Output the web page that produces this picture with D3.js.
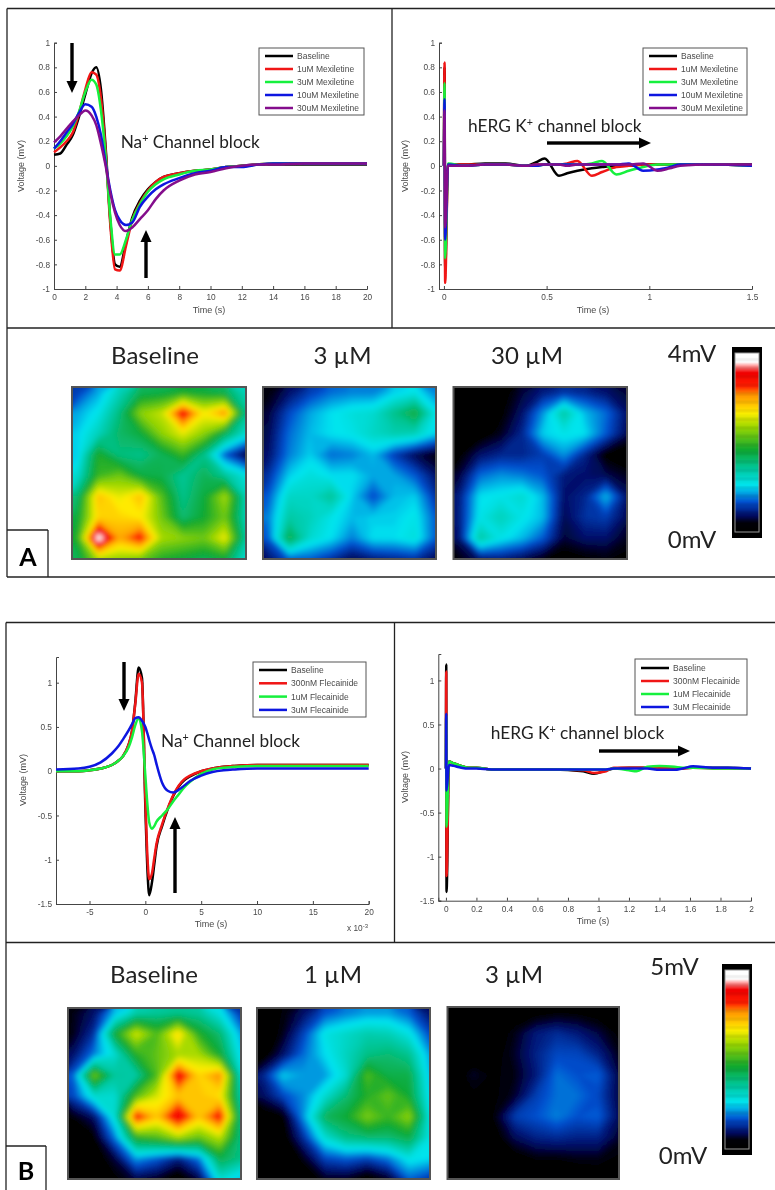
<!DOCTYPE html>
<html>
<head>
<meta charset="utf-8">
<script src="https://cdn.jsdelivr.net/npm/d3@7"></script>
<style>
  body { margin: 0; background: #fff; }
  svg { display: block; }
</style>
</head>
<body>
<svg id="plotSvg" width="775" height="1190"></svg>
<script>
// panel A, Mexiletine
var mexNames = ["Baseline", "1uM Mexiletine", "3uM Mexiletine", "10uM Mexiletine", "30uM Mexiletine"];
var mexColors = ["#000000", "#f01414", "#14f03c", "#0a14e0", "#84108c"];

var naTimeA = [0, 0.4, 0.8, 1.2, 1.6, 2, 2.4, 2.7, 3, 3.3, 3.6, 3.9, 4.2, 4.6, 5, 5.5, 6, 6.5, 7, 8, 9, 10, 11, 12, 13, 14, 16, 18, 20];
var naBaselineA = [0.09, 0.10, 0.17, 0.25, 0.40, 0.58, 0.75, 0.80, 0.62, 0.15, -0.45, -0.80, -0.82, -0.62, -0.42, -0.28, -0.19, -0.13, -0.09, -0.06, -0.04, -0.03, -0.01, 0, 0.01, 0.01, 0.01, 0.01, 0.01];
var na1uM = [0.11, 0.15, 0.20, 0.27, 0.43, 0.62, 0.76, 0.74, 0.55, 0.12, -0.48, -0.84, -0.85, -0.65, -0.44, -0.30, -0.20, -0.13, -0.09, -0.06, -0.04, -0.03, -0.01, 0, 0.01, 0.02, 0.02, 0.02, 0.02];
var na3uM = [0.14, 0.18, 0.24, 0.32, 0.44, 0.60, 0.70, 0.66, 0.45, 0.08, -0.42, -0.72, -0.72, -0.60, -0.44, -0.31, -0.21, -0.15, -0.11, -0.07, -0.04, -0.03, -0.01, 0, 0.01, 0.02, 0.02, 0.02, 0.02];
var na10uM = [0.14, 0.20, 0.27, 0.34, 0.43, 0.50, 0.48, 0.40, 0.25, 0.02, -0.20, -0.36, -0.44, -0.48, -0.46, -0.33, -0.25, -0.19, -0.15, -0.10, -0.06, -0.04, -0.01, -0.01, 0.01, 0.02, 0.02, 0.02, 0.02];
var na30uM = [0.19, 0.24, 0.30, 0.36, 0.41, 0.45, 0.41, 0.33, 0.18, 0, -0.22, -0.38, -0.48, -0.53, -0.50, -0.43, -0.36, -0.27, -0.20, -0.12, -0.07, -0.05, -0.02, 0, 0.01, 0.01, 0.02, 0.02, 0.02];

var hergTimeA = [0, 0.003, 0.006, 0.02, 0.1, 0.2, 0.3, 0.4, 0.45, 0.49, 0.56, 0.6, 0.65, 0.72, 0.77, 0.84, 0.9, 0.97, 1.04, 1.1, 1.15, 1.3, 1.5];
var hergBaselineA = [0, 0.8, -0.85, 0.01, 0.01, 0.02, 0.02, 0, 0.03, 0.06, -0.08, -0.06, -0.04, -0.02, -0.01, 0, 0, 0.01, 0.01, 0.01, 0.01, 0.01, 0.01];
var herg1uM = [0, 0.84, -0.95, 0.01, 0.01, 0.01, 0.01, 0, 0.01, 0.01, 0.01, 0.02, 0.04, -0.08, -0.05, -0.01, 0, 0.01, 0.01, 0.01, 0.01, 0.01, 0];
var herg3uM = [0, 0.67, -0.75, 0.02, 0, 0.01, 0.01, 0, 0, 0.01, 0.01, 0.01, 0.01, 0.02, 0.04, -0.07, -0.04, -0.01, 0.01, 0.01, 0.01, 0.01, 0];
var herg10uM = [0, 0.54, -0.6, 0.01, 0, 0.01, 0.01, 0, 0, 0.01, 0.01, 0.01, 0.01, 0.01, 0.01, 0.01, 0.02, -0.04, -0.03, -0.01, 0.01, 0.01, 0];
var herg30uM = [0, 0.45, -0.5, 0, 0, 0.01, 0.01, 0, 0.01, 0.01, 0.01, 0, 0.01, 0.01, 0.01, 0.01, 0.01, 0.02, -0.04, -0.02, 0, 0.01, 0.01];

// panel B, Flecainide
var flecNames = ["Baseline", "300nM Flecainide", "1uM Flecainide", "3uM Flecainide"];
var flecColors = ["#000000", "#f01414", "#14f03c", "#0a14e0"];

var naTimeB = [-8, -6, -5, -4, -3, -2.5, -2, -1.5, -1.2, -0.9, -0.6, -0.3, 0, 0.2, 0.35, 0.6, 0.8, 1, 1.5, 2, 2.5, 3, 3.5, 4, 5, 6, 7, 8, 10, 12, 20];
var naBaselineB = [0, 0, 0.01, 0.03, 0.07, 0.11, 0.17, 0.30, 0.45, 0.78, 1.17, 1.05, -0.4, -1.15, -1.4, -1.25, -1.05, -0.85, -0.62, -0.43, -0.28, -0.17, -0.10, -0.06, 0, 0.03, 0.05, 0.06, 0.07, 0.07, 0.07];
var na300nM = [0, 0, 0.01, 0.03, 0.07, 0.11, 0.17, 0.30, 0.45, 0.76, 1.10, 1.0, -0.3, -1.0, -1.22, -1.15, -0.98, -0.82, -0.60, -0.42, -0.27, -0.16, -0.09, -0.05, 0, 0.03, 0.05, 0.06, 0.07, 0.07, 0.07];
var na1uMB = [0, 0, 0.01, 0.03, 0.07, 0.11, 0.17, 0.27, 0.38, 0.52, 0.6, 0.45, -0.05, -0.4, -0.58, -0.65, -0.62, -0.57, -0.5, -0.43, -0.34, -0.26, -0.18, -0.12, -0.03, 0.02, 0.04, 0.05, 0.06, 0.06, 0.06];
var na3uMB = [0.02, 0.03, 0.05, 0.10, 0.20, 0.27, 0.36, 0.46, 0.53, 0.60, 0.61, 0.57, 0.50, 0.42, 0.35, 0.25, 0.18, 0.08, -0.13, -0.22, -0.24, -0.21, -0.16, -0.11, -0.05, -0.01, 0.01, 0.02, 0.03, 0.03, 0.03];

var hergTimeB = [0, 0.002, 0.004, 0.02, 0.05, 0.1, 0.15, 0.2, 0.3, 0.5, 0.7, 0.9, 0.97, 1.05, 1.1, 1.2, 1.25, 1.32, 1.4, 1.5, 1.55, 1.62, 1.75, 1.85, 2];
var hergBaselineB = [0, 1.18, -1.4, 0.08, 0.06, 0.03, 0.01, 0.01, -0.01, -0.01, -0.01, -0.03, -0.06, -0.02, 0, 0.01, 0.01, 0.01, 0, 0, 0, 0.01, 0.01, 0.01, 0];
var herg300nM = [0, 1.1, -1.22, 0.08, 0.06, 0.03, 0.01, 0.01, -0.01, -0.01, -0.01, -0.02, -0.05, -0.03, 0.01, 0.01, 0.01, 0.01, 0.01, 0, 0, 0.01, 0, 0, 0];
var herg1uMB = [0, 0.6, -0.66, 0.08, 0.06, 0.03, 0.01, 0.01, -0.01, -0.01, -0.01, -0.01, -0.01, -0.01, 0, -0.02, -0.03, 0.02, 0.03, 0.02, 0.01, 0.01, 0, 0, 0];
var herg3uMB = [0, 0.62, -0.25, 0.04, 0.03, 0.01, 0, 0, -0.01, -0.01, -0.01, -0.01, -0.01, -0.01, 0, 0, 0, 0, -0.015, -0.015, 0, 0.025, 0.01, 0.01, 0];

// ticks
var ticksNaAx = [0, 0.002, 0.004, 0.006, 0.008, 0.01, 0.012, 0.014, 0.016, 0.018, 0.02];
var ticksHergAx = [0, 0.5, 1, 1.5];
var ticksAy = [-1, -0.8, -0.6, -0.4, -0.2, 0, 0.2, 0.4, 0.6, 0.8, 1];
var ticksNaBx = [-5, 0, 5, 10, 15, 20];
var ticksHergBx = [0, 0.2, 0.4, 0.6, 0.8, 1, 1.2, 1.4, 1.6, 1.8, 2];
var ticksBy = [-1.5, -1, -0.5, 0, 0.5, 1];

// heat map amplitudes in mV, 9 x 9, top row first
var mapABaseline = [
  0.6, 0.9, 1.3, 1.7, 1.75, 1.85, 1.8, 1.7, 1.3,
  0.9, 1.1, 1.55, 2.3, 2.5, 3.5, 2.7, 3.1, 1.5,
  1.0, 1.3, 1.65, 1.8, 2.3, 2.6, 2.3, 1.7, 1.2,
  1.0, 1.9, 1.55, 1.5, 1.7, 2.0, 1.5, 0.7, 0.3,
  1.2, 2.0, 2.2, 1.8, 1.75, 1.45, 1.7, 1.45, 1.15,
  1.6, 2.9, 2.6, 2.9, 2.1, 1.5, 1.8, 2.4, 1.3,
  1.8, 2.8, 2.8, 2.7, 2.2, 1.6, 1.85, 2.2, 1.3,
  1.9, 4.0, 3.0, 3.4, 2.4, 2.3, 2.2, 2.65, 1.4,
  1.7, 2.4, 2.3, 2.2, 1.9, 1.8, 1.7, 1.8, 1.2
];
var mapA3uM = [
  0.2, 0.4, 0.6, 0.75, 0.8, 0.8, 1.0, 1.1, 0.8,
  0.3, 0.65, 0.9, 1.05, 1.15, 1.2, 1.5, 1.8, 1.1,
  0.35, 0.75, 0.95, 1.05, 1.1, 1.25, 1.35, 1.3, 1.0,
  0.4, 0.8, 1.0, 0.75, 0.8, 0.95, 0.6, 0.35, 0.2,
  0.55, 1.0, 1.15, 1.05, 1.05, 0.9, 0.9, 0.7, 0.4,
  0.7, 1.25, 1.25, 1.45, 1.0, 0.65, 0.95, 1.0, 0.55,
  0.8, 1.4, 1.3, 1.1, 0.95, 1.0, 1.0, 1.1, 0.7,
  0.7, 1.75, 1.2, 1.05, 0.8, 1.05, 1.05, 1.15, 0.7,
  0.4, 0.7, 0.7, 0.55, 0.35, 0.45, 0.5, 0.55, 0.35
];
var mapA30uM = [
  0.05, 0.05, 0.1, 0.3, 0.45, 0.55, 0.5, 0.4, 0.3,
  0.05, 0.05, 0.15, 0.4, 0.85, 1.4, 0.95, 0.75, 0.4,
  0.05, 0.1, 0.25, 0.5, 1.0, 1.1, 1.05, 0.7, 0.35,
  0.15, 0.4, 0.5, 0.5, 0.6, 0.85, 0.5, 0.15, 0.05,
  0.3, 0.75, 0.85, 0.8, 0.7, 0.45, 0.4, 0.35, 0.25,
  0.45, 1.05, 1.1, 1.2, 0.95, 0.4, 0.5, 0.95, 0.4,
  0.45, 1.1, 1.3, 1.1, 0.95, 0.35, 0.55, 0.6, 0.35,
  0.4, 1.4, 1.1, 0.95, 0.7, 0.3, 0.4, 0.4, 0.25,
  0.2, 0.4, 0.45, 0.35, 0.2, 0.1, 0.15, 0.2, 0.15
];
var mapBBaseline = [
  0.3, 0.5, 1.2, 1.7, 1.8, 1.85, 1.8, 1.4, 0.7,
  0.3, 0.7, 2.3, 3.2, 2.6, 3.5, 2.4, 2.0, 1.1,
  0.5, 1.0, 1.5, 2.4, 2.7, 3.0, 3.0, 2.3, 1.3,
  0.9, 2.8, 1.8, 1.75, 2.6, 4.4, 3.5, 3.9, 1.5,
  0.8, 1.5, 1.5, 2.6, 3.2, 3.6, 3.6, 3.4, 1.7,
  0.25, 0.5, 1.5, 4.3, 3.6, 4.5, 3.6, 4.3, 1.9,
  0.05, 0.2, 1.0, 2.4, 2.6, 3.0, 2.7, 3.1, 1.9,
  0.05, 0.1, 0.4, 1.1, 0.9, 0.6, 1.0, 2.2, 1.9,
  0, 0, 0.2, 0.4, 0.3, 0.05, 0.4, 1.5, 1.2
];
var mapB1uM = [
  0.05, 0.25, 0.5, 0.85, 1.0, 1.1, 1.1, 0.9, 0.5,
  0.05, 0.3, 0.8, 1.4, 1.55, 1.7, 1.65, 1.4, 0.8,
  0.1, 0.5, 0.95, 1.3, 1.6, 1.9, 2.0, 1.85, 1.1,
  0.6, 1.25, 1.1, 1.1, 1.5, 2.6, 2.2, 2.2, 1.2,
  0.45, 0.8, 1.05, 1.5, 2.0, 2.4, 2.7, 2.3, 1.3,
  0.1, 0.2, 1.1, 2.1, 2.3, 2.8, 2.5, 2.9, 1.4,
  0, 0.1, 0.7, 1.5, 1.9, 2.0, 2.0, 2.2, 1.4,
  0, 0.05, 0.3, 0.8, 0.9, 0.8, 1.0, 1.4, 1.3,
  0, 0, 0.1, 0.3, 0.3, 0.05, 0.3, 0.9, 0.7
];
var mapB3uM = [
  0, 0, 0.05, 0.1, 0.15, 0.2, 0.2, 0.15, 0.1,
  0, 0, 0.1, 0.3, 0.55, 0.65, 0.55, 0.4, 0.2,
  0, 0.05, 0.15, 0.35, 0.6, 0.8, 0.8, 0.6, 0.3,
  0.1, 0.35, 0.2, 0.3, 0.55, 0.95, 0.85, 0.9, 0.4,
  0.1, 0.2, 0.2, 0.35, 0.75, 0.95, 0.95, 0.8, 0.4,
  0, 0.05, 0.25, 0.75, 0.85, 1.0, 0.85, 0.9, 0.45,
  0, 0, 0.15, 0.45, 0.6, 0.65, 0.6, 0.6, 0.35,
  0, 0, 0.05, 0.15, 0.25, 0.25, 0.3, 0.3, 0.2,
  0, 0, 0, 0.05, 0.05, 0, 0.05, 0.1, 0.05
];

// colour map, fraction of full scale to colour
var cmapStops = [0, 0.05, 0.09, 0.167, 0.26, 0.35, 0.46, 0.59, 0.667, 0.77, 0.815, 0.89, 0.93, 0.95, 1];
var cmapColors = ["#000000", "#000008", "#000a60", "#0050d0", "#00e5f0", "#00c8a0", "#10a830", "#a0d800", "#ffee00", "#ff9000", "#ff2000", "#f00000", "#ffa0a0", "#ffffff", "#ffffff"];
var cmap = d3.scaleLinear().domain(cmapStops).range(cmapColors).clamp(true);

var svg = d3.select("#plotSvg");
var defs = svg.append("defs");
defs.append("filter").attr("id", "soft").append("feGaussianBlur").attr("stdDeviation", 0.4);
defs.append("filter").attr("id", "mapBlur").append("feGaussianBlur").attr("stdDeviation", 2.6);

var sansFont = "'Liberation Sans', Arial, sans-serif";
var slideFont = "Lato, 'Open Sans', sans-serif";

// panel frames
function frameLines(lines) {
  svg.append("g").selectAll("line").data(lines).enter().append("line")
    .attr("x1", function(d) { return d[0]; })
    .attr("y1", function(d) { return d[1]; })
    .attr("x2", function(d) { return d[2]; })
    .attr("y2", function(d) { return d[3]; })
    .attr("stroke", "#222")
    .attr("stroke-width", 1.3);
}
frameLines([[7, 8.5, 775, 8.5], [7, 8.5, 7, 577], [7, 577, 775, 577], [392, 8.5, 392, 328], [7, 328, 775, 328], [7, 530, 48, 530], [48, 530, 48, 577]]);
frameLines([[6, 622.5, 775, 622.5], [6, 622.5, 6, 1190], [394.5, 622.5, 394.5, 942.5], [6, 942.5, 775, 942.5], [6, 1146, 46, 1146], [46, 1146, 46, 1190]]);

function drawPlot(p) {
  var g = svg.append("g").attr("filter", "url(#soft)");
  var x = d3.scaleLinear().domain(p.xDomain).range(p.xRange);
  var y = d3.scaleLinear().domain(p.yDomain).range(p.yRange);

  var xAxis = d3.axisBottom(x).tickValues(p.xTicks).tickSize(-3).tickPadding(5).tickFormat(function(d) { return String(d); });
  var yAxis = d3.axisLeft(y).tickValues(p.yTicks).tickSize(-3).tickPadding(4).tickFormat(function(d) { return String(d); });

  [g.append("g").attr("transform", "translate(0," + p.yRange[0] + ")").call(xAxis),
   g.append("g").attr("transform", "translate(" + p.xRange[0] + ",0)").call(yAxis)].forEach(function(a) {
    a.selectAll("path,line").attr("stroke", "#444");
    a.selectAll("text").attr("fill", "#4a4a4a").attr("font-family", sansFont).attr("font-size", 8.3);
    a.select(".domain").attr("d", a.select(".domain").attr("d"));
  });

  var line = d3.line()
    .x(function(d, i) { return x(p.time[i]); })
    .y(function(d) { return y(d); })
    .curve(d3.curveMonotoneX);

  g.selectAll("path.trace").data(p.series).enter().append("path")
    .attr("class", "trace")
    .attr("d", line)
    .attr("fill", "none")
    .attr("stroke", function(d, i) { return p.colors[i]; })
    .attr("stroke-width", 2.5)
    .attr("stroke-linejoin", "round");

  g.append("text").attr("x", p.xLabel[0]).attr("y", p.xLabel[1]).attr("text-anchor", "middle")
    .attr("font-family", sansFont).attr("font-size", 9).attr("fill", "#4a4a4a").text("Time (s)");
  g.append("text").attr("transform", "translate(" + p.yLabel[0] + "," + p.yLabel[1] + ") rotate(-90)")
    .attr("text-anchor", "middle").attr("font-family", sansFont).attr("font-size", 9).attr("fill", "#4a4a4a").text("Voltage (mV)");

  // legend box
  var lg = p.legend;
  g.append("rect").attr("x", lg.x).attr("y", lg.y).attr("width", lg.w).attr("height", lg.h)
    .attr("fill", "#fff").attr("stroke", "#555").attr("stroke-width", 1);
  var rows = g.append("g").selectAll("g").data(p.names).enter().append("g")
    .attr("transform", function(d, i) { return "translate(" + (lg.x + 6) + "," + (lg.y + lg.first + i * lg.step) + ")"; });
  rows.append("line").attr("x2", 28).attr("stroke", function(d, i) { return p.colors[i]; }).attr("stroke-width", 2.5);
  rows.append("text").attr("x", 32).attr("dy", "0.35em").attr("font-family", sansFont).attr("font-size", 8.5)
    .attr("fill", "#4a4a4a").text(function(d) { return d; });
}

drawPlot({
  xDomain: [0, 20], xRange: [54, 367], yDomain: [-1, 1], yRange: [289, 42.7],
  xTicks: ticksNaAx.map(function(d) { return d * 1000; }).map(function(d) { return Math.round(d); }), yTicks: ticksAy,
  time: naTimeA, series: [naBaselineA, na1uM, na3uM, na10uM, na30uM], colors: mexColors, names: mexNames,
  xLabel: [209, 313], yLabel: [24, 166], legend: {x: 259, y: 48, w: 105, h: 67, first: 8, step: 13}
});
drawPlot({
  xDomain: [-0.024, 1.5], xRange: [439, 752], yDomain: [-1, 1], yRange: [289, 42.7],
  xTicks: ticksHergAx, yTicks: ticksAy,
  time: hergTimeA, series: [hergBaselineA, herg1uM, herg3uM, herg10uM, herg30uM], colors: mexColors, names: mexNames,
  xLabel: [593, 313], yLabel: [408, 166], legend: {x: 643, y: 48, w: 104, h: 67, first: 8, step: 13}
});
drawPlot({
  xDomain: [-8, 20], xRange: [56, 368.7], yDomain: [-1.5, 1.29], yRange: [904, 657],
  xTicks: ticksNaBx, yTicks: ticksBy,
  time: naTimeB, series: [naBaselineB, na300nM, na1uMB, na3uMB], colors: flecColors, names: flecNames,
  xLabel: [211, 927], yLabel: [26, 780], legend: {x: 253, y: 662, w: 113, h: 55, first: 8, step: 13.3}
});
drawPlot({
  xDomain: [-0.05, 2], xRange: [438.3, 751], yDomain: [-1.5, 1.3], yRange: [900.7, 654],
  xTicks: ticksHergBx, yTicks: ticksBy,
  time: hergTimeB, series: [hergBaselineB, herg300nM, herg1uMB, herg3uMB], colors: flecColors, names: flecNames,
  xLabel: [593, 924], yLabel: [408, 777], legend: {x: 635, y: 659, w: 112, h: 56, first: 9, step: 13}
});

// x 10^-3 multiplier
var mult = svg.append("text").attr("x", 347).attr("y", 931).attr("font-family", sansFont).attr("font-size", 8.3).attr("fill", "#4a4a4a").attr("filter", "url(#soft)").text("x 10");
mult.append("tspan").attr("dy", -3).attr("font-size", 6).text("-3");

// slide annotations
function slideLabel(x, y, size, before, sup, after, w) {
  var t = svg.append("text").attr("x", x).attr("y", y).attr("font-family", slideFont).attr("font-size", size).attr("fill", "#222");
  t.append("tspan").text(before);
  t.append("tspan").attr("dy", -size * 0.35).attr("font-size", size * 0.62).text(sup);
  t.append("tspan").attr("dy", size * 0.35).text(after);
  if (w) t.attr("textLength", w).attr("lengthAdjust", "spacingAndGlyphs");
}
slideLabel(120.7, 147.7, 17, "Na", "+", " Channel block", 139);
slideLabel(468, 132, 17, "hERG K", "+", " channel block", 173.5);
slideLabel(161, 747, 17, "Na", "+", " Channel block", 139);
slideLabel(490.7, 738.7, 17, "hERG K", "+", " channel block", 173.5);

function arrow(x1, y1, x2, y2) {
  var a = Math.atan2(y2 - y1, x2 - x1) * 180 / Math.PI;
  var len = Math.hypot(x2 - x1, y2 - y1);
  var g = svg.append("g").attr("transform", "translate(" + x1 + "," + y1 + ") rotate(" + a + ")");
  g.append("rect").attr("y", -1.7).attr("width", len - 10).attr("height", 3.4).attr("fill", "#000");
  g.append("path").attr("d", "M" + (len - 12) + ",-5.5L" + len + ",0L" + (len - 12) + ",5.5Z").attr("fill", "#000");
}
arrow(72, 43, 72, 93);
arrow(146, 278, 146, 230);
arrow(547, 143, 651, 143);
arrow(124, 662, 124, 711);
arrow(175, 893, 175, 817);
arrow(599, 751, 690, 751);

// heat maps
var mapId = 0;
function drawMap(values, maxV, x0, y0, w, h) {
  var id = "mapClip" + (mapId++);
  defs.append("clipPath").attr("id", id).append("rect").attr("x", x0).attr("y", y0).attr("width", w).attr("height", h);

  var sx = d3.scaleLinear().domain([0.5, 8.5]).range([x0 + 0.03 * w, x0 + w]);
  var sy = d3.scaleLinear().domain([0.5, 8.5]).range([y0 + 0.03 * h, y0 + h]);
  var path = d3.geoPath(d3.geoTransform({
    point: function(px, py) { this.stream.point(sx(px), sy(py)); }
  }));
  var color = d3.scaleLinear().domain([0, maxV]).range([0, 1]);
  var contours = d3.contours().size([9, 9]).thresholds(d3.range(0.02, maxV + 0.2, maxV / 120))(values);

  var g = svg.append("g").attr("clip-path", "url(#" + id + ")");
  var inner = g.append("g").attr("filter", "url(#mapBlur)");
  inner.append("rect").attr("x", x0 - 12).attr("y", y0 - 12).attr("width", w + 24).attr("height", h + 24).attr("fill", "#000");
  inner.selectAll("path").data(contours).enter().append("path")
    .attr("d", path)
    .attr("fill", function(d) { return cmap(color(d.value)); });

  svg.append("rect").attr("x", x0).attr("y", y0).attr("width", w).attr("height", h)
    .attr("fill", "none").attr("stroke", "#555").attr("stroke-width", 2);
}
drawMap(mapABaseline, 4, 72, 387, 174, 172);
drawMap(mapA3uM, 4, 263, 387, 173, 172);
drawMap(mapA30uM, 4, 453.5, 387, 173.5, 172);
drawMap(mapBBaseline, 5, 68, 1008, 173, 171);
drawMap(mapB1uM, 5, 257, 1008, 173, 171);
drawMap(mapB3uM, 5, 447.5, 1007, 171.5, 172);

// colour bars
function drawBar(x0, y0, w, h) {
  var g = svg.append("g");
  g.append("rect").attr("x", x0).attr("y", y0).attr("width", w).attr("height", h).attr("fill", "#000");
  var top = y0 + 6, bottom = y0 + h - 6;
  var sy = d3.scaleLinear().domain([0, 1]).range([bottom, top]);
  g.selectAll("rect.step").data(d3.range(0, 1, 0.005)).enter().append("rect")
    .attr("class", "step")
    .attr("x", x0 + 3)
    .attr("width", w - 6)
    .attr("y", function(d) { return sy(d + 0.005); })
    .attr("height", (bottom - top) * 0.005 + 0.5)
    .attr("fill", function(d) { return cmap(d); });
  g.append("rect").attr("x", x0 + 3).attr("y", top).attr("width", w - 6).attr("height", bottom - top)
    .attr("fill", "none").attr("stroke", "#999").attr("stroke-width", 1);
}
drawBar(732, 347, 30, 191);
drawBar(722, 964, 30, 191);

// slide titles
var titles = [
  ["Baseline", 155, 364], ["3 µM", 342.5, 364], ["30 µM", 527, 364],
  ["Baseline", 154, 983], ["1 µM", 333, 983], ["3 µM", 514, 983],
  ["4mV", 692, 362], ["0mV", 692, 548], ["5mV", 674.5, 975], ["0mV", 683, 1164]
];
svg.append("g").selectAll("text").data(titles).enter().append("text")
  .attr("x", function(d) { return d[1]; })
  .attr("y", function(d) { return d[2]; })
  .attr("text-anchor", "middle")
  .attr("font-family", slideFont)
  .attr("font-size", 24)
  .attr("fill", "#222")
  .text(function(d) { return d[0]; });

svg.append("text").attr("x", 28).attr("y", 566).attr("text-anchor", "middle").attr("font-family", slideFont)
  .attr("font-weight", 700).attr("font-size", 25).text("A");
svg.append("text").attr("x", 26).attr("y", 1180).attr("text-anchor", "middle").attr("font-family", slideFont)
  .attr("font-weight", 700).attr("font-size", 25).text("B");
</script>
</body>
</html>
